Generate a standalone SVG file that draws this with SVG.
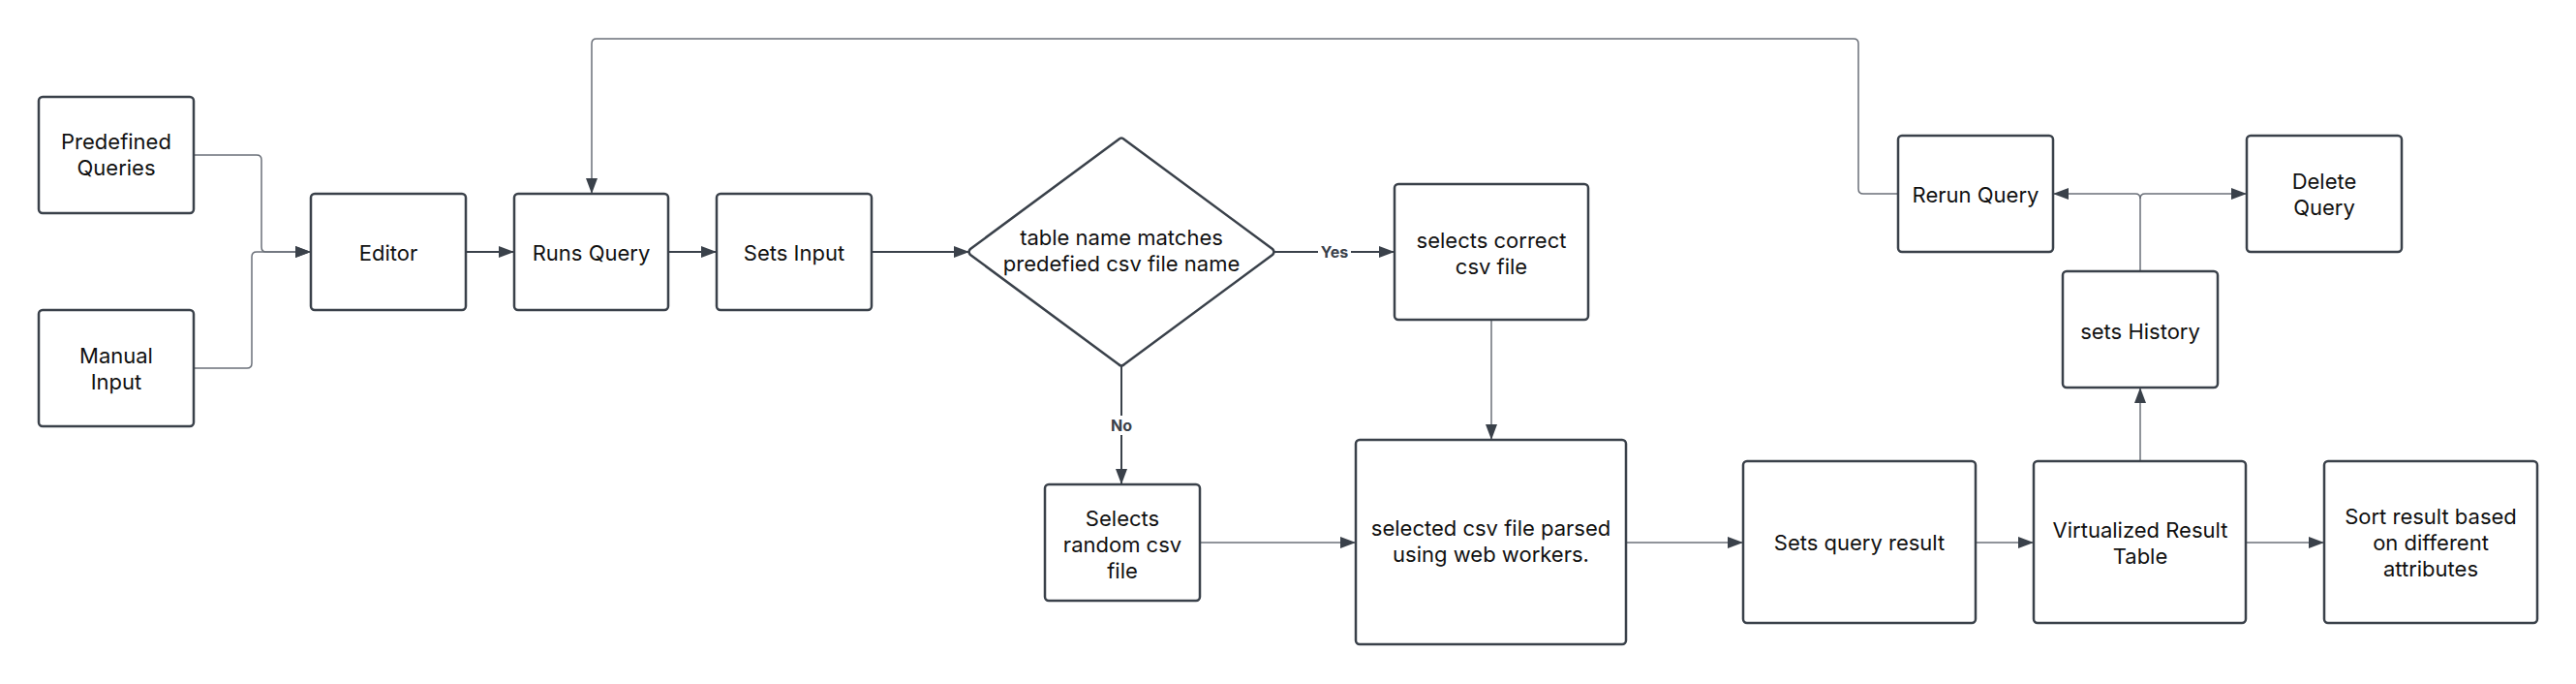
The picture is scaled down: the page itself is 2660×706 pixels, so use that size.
<svg xmlns="http://www.w3.org/2000/svg" width="2660" height="706" viewBox="0 0 2660 706">
<style>
.box{fill:#ffffff;stroke:#3a414a;stroke-width:2.5}
.t{font-family:Inter,"Liberation Sans",sans-serif;font-size:22px;fill:#111111;text-anchor:middle}
.lbl{font-family:Inter,"Liberation Sans",sans-serif;font-size:16px;font-weight:bold;fill:#3a414a;text-anchor:middle}
.c{fill:none;stroke:#6b7079;stroke-width:1.5}
.cd{fill:none;stroke:#3a414a;stroke-width:2}
</style>
<defs>
<marker id="arr" markerUnits="userSpaceOnUse" markerWidth="16" markerHeight="12" refX="16" refY="6" orient="auto">
<path d="M0,0 L16,6 L0,12 z" fill="#3a414a"/>
</marker>
</defs>
<rect width="2660" height="706" fill="#ffffff"/>
<g id="connectors">
<path class="c" d="M200,160 H265 Q270,160 270,165 V255 Q270,260 275,260 H321" marker-end="url(#arr)"/>
<path class="c" d="M200,380 H255 Q260,380 260,375 V265 Q260,260 265,260 H321" marker-end="url(#arr)"/>
<path class="cd" d="M481,260 H531" marker-end="url(#arr)"/>
<path class="cd" d="M690,260 H740" marker-end="url(#arr)"/>
<path class="cd" d="M900,260 H1001" marker-end="url(#arr)"/>
<path class="cd" d="M1316,260 H1440" marker-end="url(#arr)"/>
<path class="cd" d="M1158,378 V500" marker-end="url(#arr)"/>
<path class="c" d="M1540,330 V454" marker-end="url(#arr)"/>
<path class="c" d="M1239,560 H1400" marker-end="url(#arr)"/>
<path class="c" d="M1679,560 H1800" marker-end="url(#arr)"/>
<path class="c" d="M2040,560 H2100" marker-end="url(#arr)"/>
<path class="c" d="M2319,560 H2400" marker-end="url(#arr)"/>
<path class="c" d="M2210,476 V400" marker-end="url(#arr)"/>
<path class="c" d="M2210,280 V205 Q2210,200 2205,200 H2120" marker-end="url(#arr)"/>
<path class="c" d="M2210,205 Q2210,200 2215,200 H2320" marker-end="url(#arr)"/>
<path class="c" d="M1960,200 H1924 Q1919,200 1919,195 V45 Q1919,40 1914,40 H616 Q611,40 611,45 V200" marker-end="url(#arr)"/>
<rect x="1361" y="250" width="34" height="20" fill="#ffffff"/>
<text class="lbl" x="1378" y="266">Yes</text>
<rect x="1143" y="429" width="30" height="20" fill="#ffffff"/>
<text class="lbl" x="1158" y="445">No</text>
</g>
<g id="predefined">
<rect class="box" x="40" y="100" width="160" height="120" rx="4"/>
<text class="t" x="120" y="154">Predefined</text>
<text class="t" x="120" y="181">Queries</text>
</g>
<g id="manual">
<rect class="box" x="40" y="320" width="160" height="120" rx="4"/>
<text class="t" x="120" y="374.5">Manual</text>
<text class="t" x="120" y="401.5">Input</text>
</g>
<g id="editor">
<rect class="box" x="321" y="200" width="160" height="120" rx="4"/>
<text class="t" x="401" y="268.5">Editor</text>
</g>
<g id="runs-query">
<rect class="box" x="531" y="200" width="159" height="120" rx="4"/>
<text class="t" x="610.5" y="268.5">Runs Query</text>
</g>
<g id="sets-input">
<rect class="box" x="740" y="200" width="160" height="120" rx="4"/>
<text class="t" x="820" y="268.5">Sets Input</text>
</g>
<g id="decision">
<path class="box" d="M1155,144 Q1158,141 1161,144 L1314,257 Q1317,260 1314,263 L1161,376 Q1158,379 1155,376 L1002,263 Q999,260 1002,257 Z" stroke-linejoin="round"/>
<text class="t" x="1158" y="252.5">table name matches</text>
<text class="t" x="1158" y="279.5">predefied csv file name</text>
</g>
<g id="selects-correct">
<rect class="box" x="1440" y="190" width="200" height="140" rx="4"/>
<text class="t" x="1540" y="256">selects correct</text>
<text class="t" x="1540" y="283">csv file</text>
</g>
<g id="selects-random">
<rect class="box" x="1079" y="500" width="160" height="120" rx="4"/>
<text class="t" x="1159" y="542.5">Selects</text>
<text class="t" x="1159" y="569.5">random csv</text>
<text class="t" x="1159" y="596.5">file</text>
</g>
<g id="parsed">
<rect class="box" x="1400" y="454" width="279" height="211" rx="4"/>
<text class="t" x="1539.5" y="552.5">selected csv file parsed</text>
<text class="t" x="1539.5" y="579.5">using web workers.</text>
</g>
<g id="sets-query-result">
<rect class="box" x="1800" y="476" width="240" height="167" rx="4"/>
<text class="t" x="1920" y="568">Sets query result</text>
</g>
<g id="virtualized">
<rect class="box" x="2100" y="476" width="219" height="167" rx="4"/>
<text class="t" x="2210" y="554.5">Virtualized Result</text>
<text class="t" x="2210" y="581.5">Table</text>
</g>
<g id="sort">
<rect class="box" x="2400" y="476" width="220" height="167" rx="4"/>
<text class="t" x="2510" y="541">Sort result based</text>
<text class="t" x="2510" y="568">on different</text>
<text class="t" x="2510" y="595">attributes</text>
</g>
<g id="sets-history">
<rect class="box" x="2130" y="280" width="160" height="120" rx="4"/>
<text class="t" x="2210" y="349.5">sets History</text>
</g>
<g id="rerun">
<rect class="box" x="1960" y="140" width="160" height="120" rx="4"/>
<text class="t" x="2040" y="209">Rerun Query</text>
</g>
<g id="delete">
<rect class="box" x="2320" y="140" width="160" height="120" rx="4"/>
<text class="t" x="2400" y="194.5">Delete</text>
<text class="t" x="2400" y="221.5">Query</text>
</g>
</svg>
